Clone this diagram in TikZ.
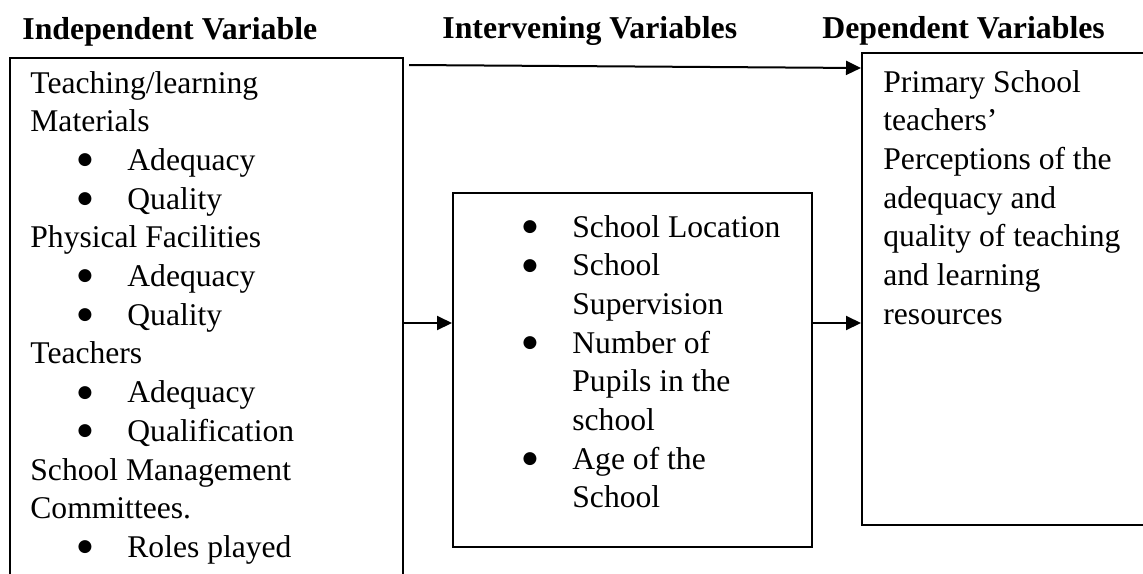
\documentclass[tikz,border=0pt]{standalone}
\usepackage{fontspec}
\setmainfont{Liberation Serif}
\newfontfamily\dejavu{DejaVu Sans}
\usetikzlibrary{arrows.meta}
\tikzset{
  box/.style={draw=black, line width=1pt, rectangle, inner sep=0pt},
  txt/.style={anchor=base west, inner sep=0pt, font=\fontsize{15.8pt}{19pt}\selectfont},
  bul/.style={anchor=center, inner sep=0pt, yshift=5pt, font=\dejavu\fontsize{8.5pt}{9pt}\selectfont},
  head/.style={anchor=base west, inner sep=0pt, font=\fontsize{15.9pt}{19pt}\selectfont\bfseries},
  arr/.style={line width=1pt, -{Triangle[length=7.5pt,width=7pt]}}
}
\begin{document}
\begin{tikzpicture}[x=0.5pt,y=-0.5pt]
\useasboundingbox (0,0) rectangle (1143,573);
\clip (0,0) rectangle (1143,573);
% headings
\node[head] (h1) at (22,39) {Independent Variable};
\node[head] (h2) at (442,38) {Intervening Variables};
\node[head] (h3) at (822,38) {Dependent Variables};
% boxes
\node[box, minimum width=196.5pt, minimum height=291pt] (lbox) at (206.5,349) {};
\node[box, minimum width=179.5pt, minimum height=177pt] (mbox) at (632.5,370) {};
\node[box, minimum width=149pt, minimum height=236pt] (rbox) at (1011,289) {};
% left box text
\foreach \t [count=\i] in {Teaching/learning, Materials} {
  \node[txt] (la\i) at (30,{93+(\i-1)*38.7}) {\t};
}
\foreach \t/\n [count=\i] in {Adequacy/3, Quality/4, Adequacy/6, Quality/7, Adequacy/9, Qualification/10, Roles played/13} {
  \node[bul] (lb\i) at (85,{93+(\n-1)*38.7}) {●};
  \node[txt] (lt\i) at (127,{93+(\n-1)*38.7}) {\t};
}
\foreach \t/\n [count=\i] in {Physical Facilities/5, Teachers/8, School Management/11, Committees./12} {
  \node[txt] (lc\i) at (30,{93+(\n-1)*38.7}) {\t};
}
% middle box text
\foreach \t/\n [count=\i] in {School Location/1, School/2, Number of/4, Age of the/7} {
  \node[bul] (mb\i) at (530,{237+(\n-1)*38.7}) {●};
  \node[txt] (mt\i) at (572,{237+(\n-1)*38.7}) {\t};
}
\foreach \t/\n [count=\i] in {Supervision/3, Pupils in the/5, school/6, School/8} {
  \node[txt] (mc\i) at (572,{237+(\n-1)*38.7}) {\t};
}
% right box text
\foreach \t [count=\i] in {Primary School, teachers’, Perceptions of the, adequacy and, quality of teaching, and learning, resources} {
  \node[txt] (r\i) at (883,{92+(\i-1)*38.7}) {\t};
}
% connectors
\coordinate (ts) at (409,65);
\draw[arr] (ts) -- (rbox.west |- 0,68);
\draw[arr] (lbox.east |- 0,323) -- (mbox.west |- 0,323);
\draw[arr] (mbox.east |- 0,323) -- (rbox.west |- 0,323);
\end{tikzpicture}
\end{document}
